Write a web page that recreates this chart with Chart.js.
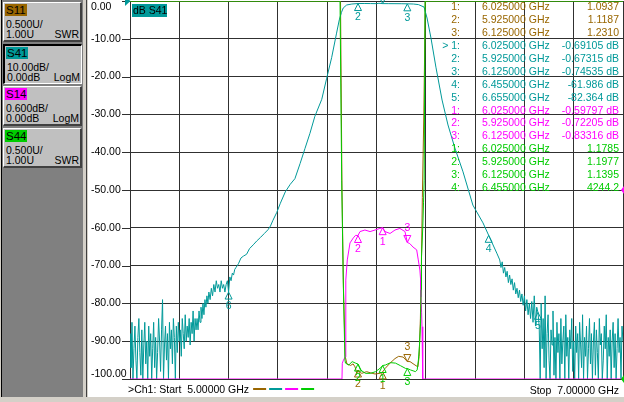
<!DOCTYPE html>
<html>
<head>
<meta charset="utf-8">
<title>S-parameter sweep</title>
<script src="https://cdn.jsdelivr.net/npm/chart.js@4.4.1/dist/chart.umd.min.js"></script>
<style>
  html, body { margin: 0; padding: 0; }
  body { width: 624px; height: 402px; overflow: hidden; position: relative; background: #d4d0c8;
         font-family: "Liberation Sans", Arial, sans-serif; font-size: 10.5px; }
  #side { position: absolute; left: 1px; top: 0; width: 81px; height: 397px; background: #808080; border-left: 1px solid #000; }
  #sep { position: absolute; left: 86px; top: 0; width: 1px; height: 397px; background: #404040; }
  #plot { position: absolute; left: 88px; top: 0; width: 536px; height: 397px; background: #fff; }
  .btn { position: absolute; left: 3px; width: 76px; height: 37px; background: #c0c0c0;
         border-top: 1px solid #fff; border-left: 1px solid #fff; border-right: 2px solid #404040; border-bottom: 2px solid #404040; }
  .btn.sel { border-top: 2px solid #000; border-left: 2px solid #000; border-right: 1px solid #fff; border-bottom: 1px solid #fff; }
  .chip { position: absolute; left: 1px; top: 1px; height: 12px; line-height: 12px; padding: 0 1px; color: #000; font-size: 11.5px; }
  .l2 { position: absolute; left: 2px; top: 15px; line-height: 13px; }
  .l3 { position: absolute; left: 2px; top: 25px; line-height: 13px; }
  .fmt { position: absolute; right: 1px; top: 25px; line-height: 13px; }
</style>
</head>
<body>
<div id="side"></div>
<div id="sep"></div>
<div class="btn" style="top:2px"><span class="chip" style="background:#996600">S11</span><span class="l2">0.500U/</span><span class="l3">1.00U</span><span class="fmt">SWR</span></div>
<div class="btn sel" style="top:44px"><span class="chip" style="background:#009999">S41</span><span class="l2">10.00dB/</span><span class="l3">0.00dB</span><span class="fmt">LogM</span></div>
<div class="btn" style="top:86px"><span class="chip" style="background:#ff00ff">S14</span><span class="l2">0.600dB/</span><span class="l3">0.00dB</span><span class="fmt">LogM</span></div>
<div class="btn" style="top:128px"><span class="chip" style="background:#00cc00">S44</span><span class="l2">0.500U/</span><span class="l3">1.00U</span><span class="fmt">SWR</span></div>
<div id="plot"><canvas id="chart" width="536" height="397"></canvas></div>

<script>
const S11C = '#996600', S41C = '#009999', S14C = '#ff00ff', S44C = '#00cc00';
const FONT = '10.5px "Liberation Sans", Arial, sans-serif';

// sweep
const startGHz = 5.0;
const stopGHz = 7.0;

// S41 (dB) - noise floor below 5.27 GHz, sampled every 4 MHz
const s41LoStart = 5.000;
const s41Step = 0.004;
const s41LoNoise = [
  -88, -97, -85, -101, -92, -86, -95, -101, -89, -84, -93, -99, -87, -101, -91, -85, -96, -90, -101, -86,
  -94, -88, -101, -92, -85, -97, -89, -101, -93, -84, -90, -98, -87, -79, -101, -91, -86, -95, -88, -101,
  -85, -92, -87, -96, -84, -89, -101, -86, -93, -85, -90, -87, -94, -84, -88, -92, -83, -90, -86, -89,
  -84, -91, -85, -88, -82, -90, -84, -87
];
// S41 skirts and passband
const s41MidFreq = [
  5.272, 5.276, 5.280, 5.284, 5.288, 5.292, 5.296, 5.300, 5.304, 5.308, 5.312, 5.316, 5.320, 5.325, 5.330,
  5.335, 5.340, 5.345, 5.350, 5.355, 5.360, 5.365, 5.370, 5.375, 5.380, 5.385, 5.390, 5.395, 5.400, 5.405,
  5.410, 5.415, 5.420, 5.425, 5.430, 5.440, 5.450, 5.460, 5.473, 5.485, 5.500, 5.514, 5.530, 5.545, 5.560,
  5.570, 5.580, 5.595, 5.610, 5.630, 5.650, 5.669, 5.690, 5.710, 5.730, 5.750, 5.778, 5.798, 5.818, 5.838,
  5.849, 5.858, 5.865, 5.879, 5.900, 5.925, 5.950, 5.975, 6.000, 6.010, 6.018, 6.025, 6.050, 6.075, 6.100,
  6.125, 6.150, 6.170, 6.193, 6.205, 6.221, 6.241, 6.266, 6.290, 6.318, 6.351, 6.391, 6.432, 6.455, 6.488,
  6.500, 6.505, 6.510, 6.515, 6.520, 6.525, 6.530, 6.535, 6.540, 6.545, 6.550, 6.555, 6.560, 6.565, 6.570,
  6.575, 6.580, 6.585, 6.590, 6.595, 6.600, 6.605, 6.610, 6.615, 6.620, 6.625, 6.630, 6.635, 6.640, 6.645,
  6.650, 6.655
];
const s41MidDb = [
  -84, -87, -82, -85, -81, -84, -80, -83, -79, -81, -78, -80, -77, -79, -76,
  -78, -75, -77, -74, -76, -75, -77, -74, -76, -75, -77, -75, -74, -77, -73,
  -74, -72, -72.5, -71, -70.5, -69.5, -68, -67.5, -67, -65.5, -64.5, -63.5, -62.5, -61.5, -60.5,
  -59.5, -58, -56, -53.5, -50.5, -48.5, -47, -43, -39, -35, -30.5, -26, -20.4, -15, -8.5,
  -5, -3, -1.85, -1.05, -0.8, -0.673, -0.66, -0.68, -0.70, -0.6, -0.66, -0.691, -0.70, -0.71, -0.72,
  -0.745, -0.80, -0.95, -1.6, -4.5, -9.8, -17.5, -26.2, -32.8, -38.9, -45.2, -54.0, -58.7, -61.986, -66.7,
  -68.5, -70.5, -69, -72, -70.5, -73, -71.5, -74.5, -72.5, -75, -73.5, -76.5, -74.5, -77.5, -76,
  -78.5, -76.5, -79.5, -77.5, -80.5, -78, -82, -79, -83, -80, -84, -79.5, -85, -78, -86,
  -81, -82.364
];
// S41 noise floor above 6.66 GHz
const s41HiStart = 6.660;
const s41HiNoise = [
  -86, -101, -80, -92, -84, -97, -78, -101, -88, -83, -95, -101, -87, -91, -82, -99, -89, -101, -85, -93,
  -88, -101, -84, -96, -90, -86, -101, -83, -94, -89, -101, -87, -92, -84, -98, -90, -101, -86, -93, -88,
  -101, -85, -91, -97, -83, -101, -89, -94, -86, -101, -92, -84, -96, -88, -101, -90, -85, -99, -87, -93,
  -101, -84, -91, -88, -101, -95, -86, -92, -83, -101, -89, -94, -87, -101, -90, -85, -97, -88, -101, -92,
  -84, -93, -89, -101, -86, -90
];

// S11 (SWR)
const s11Freq = [5.000, 5.854, 5.860, 5.866, 5.873, 5.880, 5.895, 5.905, 5.913, 5.920, 5.925, 5.940, 5.960, 5.974,
  5.994, 6.014, 6.025, 6.035, 6.055, 6.075, 6.090, 6.108, 6.125, 6.136, 6.156, 6.168, 6.173, 6.178, 6.182, 6.186,
  6.192, 6.198, 7.000];
const s11Swr = [6, 6, 3.5, 2.2, 1.3, 1.2, 1.18, 1.2, 1.16, 1.075, 1.1187, 1.075, 1.097, 1.083,
  1.066, 1.075, 1.0937, 1.14, 1.21, 1.27, 1.30, 1.29, 1.231, 1.23, 1.185, 1.16, 1.3, 1.8, 2.5, 3.4,
  4.5, 6, 6];

// S14 (dB)
const s14Freq = [5.000, 5.860, 5.8612, 5.866, 5.873, 5.875, 5.876, 5.8815, 5.8925, 5.906, 5.915, 5.925, 5.933,
  5.953, 5.974, 5.994, 6.014, 6.025, 6.0345, 6.055, 6.075, 6.095, 6.1156, 6.125, 6.135, 6.148, 6.163, 6.1695,
  6.176, 6.179, 6.1805, 6.183, 6.1846, 6.187, 6.188, 7.000];
const s14Db = [-3, -3, -2.75, -2.7, -2.65, -2.0, -1.43, -1.11, -0.84, -0.76, -0.72, -0.722, -0.66,
  -0.635, -0.66, -0.635, -0.61, -0.598, -0.66, -0.69, -0.635, -0.61, -0.66, -0.833, -0.85, -0.905, -0.95, -1.11,
  -1.27, -1.43, -1.70, -1.95, -2.17, -2.49, -3, -3];

// S44 (SWR)
const s44Freq = [5.000, 5.852, 5.8588, 5.865, 5.872, 5.8742, 5.8876, 5.9014, 5.9148, 5.925, 5.935, 5.955, 5.9757,
  5.996, 6.0162, 6.025, 6.0365, 6.0568, 6.0771, 6.0974, 6.1176, 6.125, 6.1379, 6.1582, 6.165, 6.170, 6.174,
  6.1788, 6.181, 6.1826, 6.1878, 6.1907, 6.1934, 6.197, 7.000];
const s44Swr = [6, 6, 3.63, 2.31, 1.25, 1.21, 1.185, 1.23, 1.21, 1.1977, 1.12, 1.075, 1.075,
  1.097, 1.146, 1.1785, 1.185, 1.216, 1.21, 1.176, 1.14, 1.1395, 1.12, 1.097, 1.12, 1.25, 1.43,
  1.74, 2.18, 2.61, 3.01, 3.33, 3.63, 6, 6];

// markers
const s11MkFreq = [6.025, 5.925, 6.125];
const s11MkVal = [1.0937, 1.1187, 1.2310];
const s41MkFreq = [6.025, 5.925, 6.125, 6.455, 6.655, 5.400];
const s41MkVal = [-0.69105, -0.67315, -0.74535, -61.986, -82.364, -77.0];
const s14MkFreq = [6.025, 5.925, 6.125];
const s14MkVal = [-0.59797, -0.72205, -0.83316];
const s44MkFreq = [6.025, 5.925, 6.125, 6.455];
const s44MkVal = [1.1785, 1.1977, 1.1395, 4244.2];

// assemble S41 sweep
const s41Freq = [], s41Db = [];
s41LoNoise.forEach((v, i) => { s41Freq.push(+(s41LoStart + i * s41Step).toFixed(3)); s41Db.push(v); });
s41MidFreq.forEach((f, i) => { s41Freq.push(f); s41Db.push(s41MidDb[i]); });
s41HiNoise.forEach((v, i) => { s41Freq.push(+(s41HiStart + i * s41Step).toFixed(3)); s41Db.push(v); });

// values off screen are pinned to the graticule edge like on the analyzer
function toXY(freqs, vals, lo, hi) {
    return freqs.map((f, i) => ({ x: f, y: Math.min(hi, Math.max(lo, vals[i])) }));
}

const traces = [
    { name: 'S11', color: S11C, axis: 'ySwr', mf: s11MkFreq, mv: s11MkVal, down: [false, false, true], unit: '' },
    { name: 'S41', color: S41C, axis: 'y', mf: s41MkFreq, mv: s41MkVal, down: [true, false, false, false, false, false], unit: ' dB', rows: 5 },
    { name: 'S14', color: S14C, axis: 'yS14', mf: s14MkFreq, mv: s14MkVal, down: [false, false, true], unit: ' dB' },
    { name: 'S44', color: S44C, axis: 'ySwr', mf: s44MkFreq, mv: s44MkVal, down: [false, false, false, false], unit: '' }
];

function drawMarker(c, px, py, down, label) {
    const d = down ? -1 : 1;
    c.beginPath();
    c.moveTo(px, py);
    c.lineTo(px - 3.5, py + 7 * d);
    c.lineTo(px + 3.5, py + 7 * d);
    c.closePath();
    c.stroke();
    c.fillText(label, px, py + 14 * d);
}

const vnaOverlay = {
    id: 'vnaOverlay',
    afterDraw(chart) {
        const c = chart.ctx;
        const xs = chart.scales.x, ys = chart.scales.y;
        const area = chart.chartArea;
        c.save();
        c.font = FONT;
        c.textBaseline = 'middle';
        c.lineWidth = 1;

        // y labels and tick marks
        ys.ticks.forEach(t => {
            const py = ys.getPixelForValue(t.value);
            c.strokeStyle = '#303030';
            c.beginPath();
            c.moveTo(34, Math.round(py) + 0.5);
            c.lineTo(area.left, Math.round(py) + 0.5);
            c.stroke();
            c.fillStyle = '#000';
            c.textAlign = 'left';
            c.fillText(t.value.toFixed(2), 3, Math.min(Math.max(py, 7.5), 374));
        });

        // reference level arrows
        c.fillStyle = S41C;
        c.beginPath(); c.moveTo(37, -3); c.lineTo(37, 6); c.lineTo(42.5, area.top); c.closePath(); c.fill();
        const r14 = chart.scales.yS14.getPixelForValue(0);
        c.fillStyle = S14C;
        c.beginPath(); c.moveTo(536, r14 - 4); c.lineTo(536, r14 + 4); c.lineTo(533, r14); c.closePath(); c.fill();
        const r44 = chart.scales.ySwr.getPixelForValue(1);
        c.fillStyle = S44C;
        c.beginPath(); c.moveTo(536, r44 - 4); c.lineTo(536, r44 + 4); c.lineTo(533, r44); c.closePath(); c.fill();

        // trace title chip
        c.fillStyle = S41C;
        c.fillRect(area.left + 2, 4, 35, 13);
        c.fillStyle = '#000';
        c.fillText('dB S41', area.left + 3, 11);

        // markers
        c.textAlign = 'center';
        traces.forEach(tr => {
            const sc = chart.scales[tr.axis];
            c.strokeStyle = tr.color;
            c.fillStyle = tr.color;
            tr.mf.forEach((f, i) => {
                const v = tr.mv[i];
                if (v > sc.max || v < sc.min) return;
                drawMarker(c, xs.getPixelForValue(f), sc.getPixelForValue(v), tr.down[i], String(i + 1));
            });
        });

        // marker readout table
        let row = 0;
        traces.forEach(tr => {
            const n = tr.rows || tr.mf.length;
            c.fillStyle = tr.color;
            for (let i = 0; i < n; i++) {
                const y = 7.5 + row * 12.9;
                const idx = (tr.name === 'S41' && i === 0 ? '> ' : '') + (i + 1) + ':';
                c.textAlign = 'right';
                c.fillText(idx, 372, y);
                c.textAlign = 'left';
                c.fillText(tr.mf[i].toFixed(6) + ' GHz', 394, y);
                c.textAlign = 'right';
                c.fillText(tr.mv[i].toPrecision(5) + tr.unit, 531, y);
                row++;
            }
        });

        // status line
        c.fillStyle = '#000';
        c.textAlign = 'left';
        const startTxt = '>Ch1: Start  ' + xs.min.toFixed(5) + ' GHz';
        c.fillText(startTxt, 40, 390);
        let dx = 40 + c.measureText(startTxt).width + 4;
        c.lineWidth = 2;
        [S11C, S41C, S14C, S44C].forEach(col => {
            c.strokeStyle = col;
            c.beginPath(); c.moveTo(dx, 389); c.lineTo(dx + 13, 389); c.stroke();
            dx += 16;
        });
        c.textAlign = 'right';
        c.fillText('Stop  ' + xs.max.toFixed(5) + ' GHz', 531, 391);
        c.restore();
    }
};

const gridOpts = { color: '#303030', lineWidth: 1, drawTicks: false };

new Chart(document.getElementById('chart').getContext('2d'), {
    type: 'line',
    data: {
        datasets: [
            { label: 'S44', data: toXY(s44Freq, s44Swr, 1, 6), borderColor: S44C, yAxisID: 'ySwr', order: 0 },
            { label: 'S14', data: toXY(s14Freq, s14Db, -3, 3), borderColor: S14C, yAxisID: 'yS14', order: 1 },
            { label: 'S41', data: toXY(s41Freq, s41Db, -100, 0), borderColor: S41C, yAxisID: 'y', order: 2 },
            { label: 'S11', data: toXY(s11Freq, s11Swr, 1, 6), borderColor: S11C, yAxisID: 'ySwr', order: 3 }
        ]
    },
    options: {
        responsive: false,
        animation: false,
        devicePixelRatio: 1,
        layout: { padding: { left: 42, top: 1, right: 1, bottom: 18 } },
        elements: {
            point: { radius: 0 },
            line: { borderWidth: 1, tension: 0, fill: false }
        },
        plugins: { legend: { display: false }, tooltip: { enabled: false } },
        scales: {
            x: { type: 'linear', min: startGHz, max: stopGHz, ticks: { display: false, count: 11 }, grid: gridOpts, border: { display: false } },
            y: { min: -100, max: 0, ticks: { display: false, stepSize: 10 }, grid: gridOpts, border: { display: false } },
            ySwr: { display: false, min: 1, max: 6 },
            yS14: { display: false, min: -3, max: 3 }
        }
    },
    plugins: [vnaOverlay]
});
</script>
</body>
</html>
